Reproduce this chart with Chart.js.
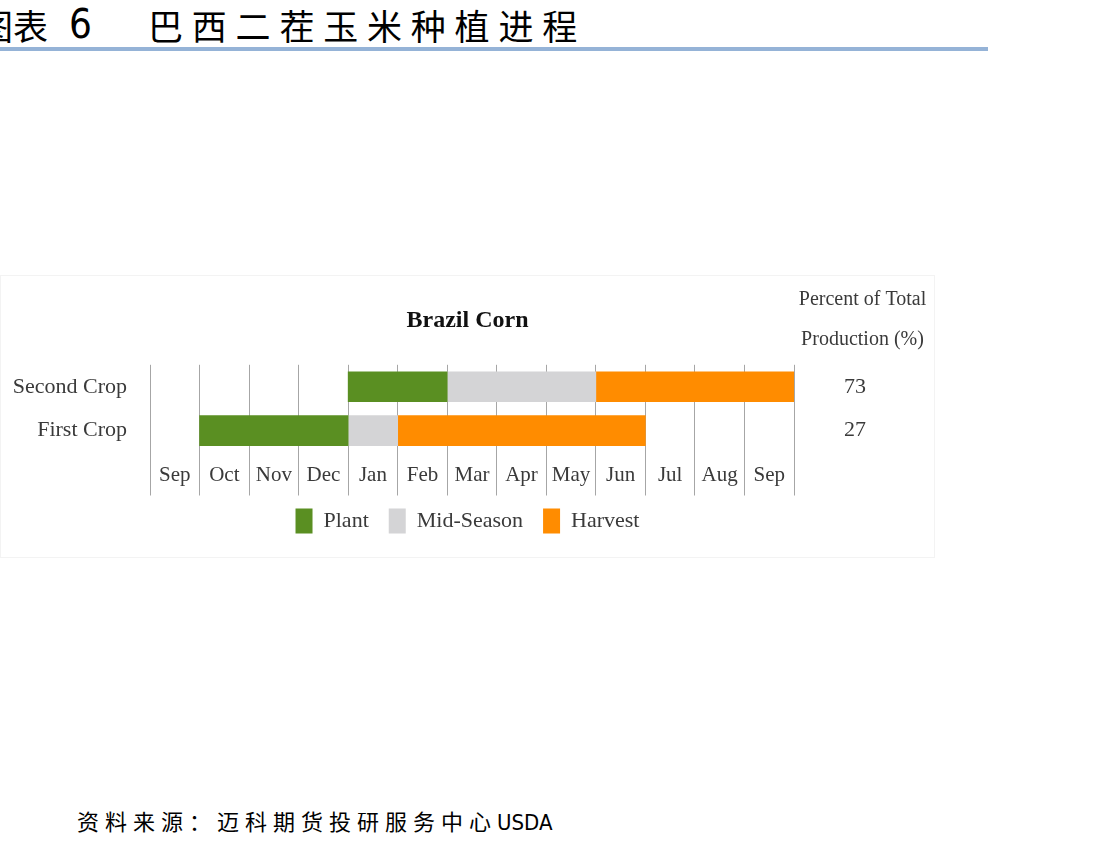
<!DOCTYPE html>
<html>
<head>
<meta charset="utf-8">
<script src="https://cdn.jsdelivr.net/npm/chart.js@4/dist/chart.umd.min.js"></script>
<style>
  html, body { margin: 0; padding: 0; background: #ffffff; width: 1119px; height: 850px; overflow: hidden; position: relative; }
  .hdr { position: absolute; top: 5px; font-family: "Noto Sans CJK SC", sans-serif; font-size: 35px; line-height: 40px; color: #000; white-space: nowrap; }
  #h1 { left: -22px; }
  #h6 { left: 69px; font-size: 40px; top: 2px; line-height: 44px; font-family: "DejaVu Sans Condensed", "Noto Sans", sans-serif; font-weight: 300; }
  #h2 { left: 148px; letter-spacing: 8.8px; }
  #rule { position: absolute; left: 0; top: 47px; width: 988px; height: 4px; background: #95b3d7; }
  #box { position: absolute; left: 0; top: 275px; width: 935px; height: 283px; background: #fff; box-shadow: inset 0 0 0 1px #f3f3f3; }
  #foot { position: absolute; left: 77px; top: 806px; font-family: "Noto Sans CJK SC", sans-serif; font-size: 22px; line-height: 28px; letter-spacing: 6px; color: #000; white-space: nowrap; }
  #foot span { font-family: "DejaVu Sans Condensed", "Liberation Sans Narrow", sans-serif; letter-spacing: 0; }
</style>
</head>
<body>
<div class="hdr" id="h1">图表</div>
<div class="hdr" id="h6">6</div>
<div class="hdr" id="h2">巴西二茬玉米种植进程</div>
<div id="rule"></div>
<div id="box"><canvas id="c" width="935" height="283"></canvas></div>
<div id="foot">资料来源：迈科期货投研服务中心<span>USDA</span></div>
<script>
// ---- data ----
const months = ['Sep', 'Oct', 'Nov', 'Dec', 'Jan', 'Feb', 'Mar', 'Apr', 'May', 'Jun', 'Jul', 'Aug', 'Sep'];
const crops = ['Second Crop', 'First Crop'];
// [start month index, end month index) on the 13-month axis
const plant = [[4, 6], [1, 4]];
const midSeason = [[6, 9], [4, 5]];
const harvest = [[9, 13], [5, 10]];
const shareOfProduction = ['73', '27'];
const shareHeader = ['Percent of Total', 'Production (%)'];

const serif = 'Liberation Serif';
const txt = '#3a3a3a';

const headerPlugin = {
  id: 'shareHeader',
  afterDraw(chart) {
    const ctx = chart.ctx;
    const x = (chart.chartArea.right + chart.width) / 2 - 2;
    ctx.save();
    ctx.font = '20px "' + serif + '"';
    ctx.fillStyle = txt;
    ctx.textAlign = 'center';
    ctx.textBaseline = 'middle';
    ctx.fillText(shareHeader[0], x, 25);
    ctx.fillText(shareHeader[1], x, 65);
    ctx.restore();
  }
};

new Chart(document.getElementById('c'), {
  type: 'bar',
  data: {
    labels: crops,
    datasets: [
      { label: 'Plant', data: plant, backgroundColor: '#5a8f22', xAxisID: 'xv', yAxisID: 'y', grouped: false, barThickness: 30, borderWidth: 0 },
      { label: 'Mid-Season', data: midSeason, backgroundColor: '#d4d4d6', xAxisID: 'xv', yAxisID: 'y', grouped: false, barThickness: 30, borderWidth: 0 },
      { label: 'Harvest', data: harvest, backgroundColor: '#ff8c00', xAxisID: 'xv', yAxisID: 'y', grouped: false, barThickness: 30, borderWidth: 0 }
    ]
  },
  options: {
    indexAxis: 'y',
    responsive: false,
    animation: false,
    layout: { padding: { left: 0, right: 0, top: 0, bottom: 14.5 } },
    scales: {
      xv: { type: 'linear', axis: 'x', position: 'bottom', min: 0, max: 13, display: false },
      x: {
        type: 'category', axis: 'x', position: 'bottom', labels: months, offset: true,
        grid: { offset: true, color: '#a6a6a6', lineWidth: 1, drawTicks: true, tickLength: 43 },
        border: { display: false },
        ticks: { color: txt, font: { family: serif, size: 21 }, mirror: true, padding: -36, maxRotation: 0, autoSkip: false },
        title: { display: true, text: '', font: { size: 1, lineHeight: 1 }, padding: { top: 0, bottom: 64 } }
      },
      y: {
        type: 'category', position: 'left', labels: crops, offset: true,
        grid: { display: false, drawTicks: false }, border: { display: false },
        ticks: { color: txt, font: { family: serif, size: 22 }, padding: 23 },
        afterFit(s) { s.width = 150; }
      },
      y2: {
        type: 'category', position: 'right', labels: shareOfProduction, offset: true,
        grid: { display: false, drawTicks: false }, border: { display: false },
        ticks: { color: txt, font: { family: serif, size: 22 }, padding: 50, crossAlign: 'center' },
        afterFit(s) { s.width = 141; }
      }
    },
    plugins: {
      title: { display: true, text: 'Brazil Corn', color: '#111', font: { family: serif, size: 24, weight: 'bold' }, padding: { top: 31, bottom: 30 } },
      legend: {
        position: 'bottom',
        labels: { color: txt, font: { family: serif, size: 22 }, boxWidth: 17, boxHeight: 25, padding: 20 }
      },
      tooltip: { enabled: false }
    }
  },
  plugins: [headerPlugin]
});
</script>
</body>
</html>
